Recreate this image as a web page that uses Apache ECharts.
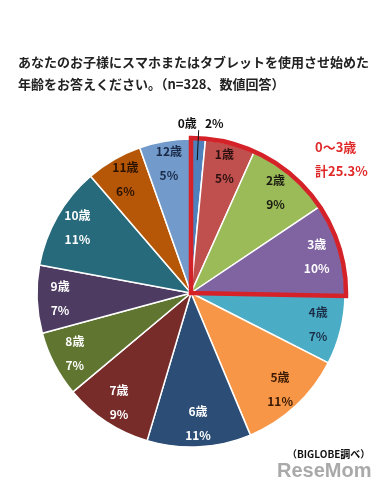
<!DOCTYPE html>
<html><head><meta charset="utf-8">
<script src="https://cdn.jsdelivr.net/npm/echarts@6/dist/echarts.min.js"></script>
<style>html,body{margin:0;padding:0;background:#fff;}#c{width:382px;height:480px;}</style>
</head><body><div id="c"></div>
<script>
const categories = ['0歳','1歳','2歳','3歳','4歳','5歳','6歳','7歳','8歳','9歳','10歳','11歳','12歳'];
const values = [1.5, 5.2, 8.9, 9.7, 7.2, 11.2, 10.9, 9.3, 6.9, 7.1, 10.8, 5.9, 5.4];
const pctLabels = ['2%','5%','9%','10%','7%','11%','11%','9%','7%','7%','11%','6%','5%'];
const groupValues = [25.3, 74.7];
const groupLabel = ['0～3歳', '計25.3%'];

const colors = ['#4F81BD','#C0504D','#9BBB59','#8064A2','#4BACC6','#F79646','#2C4D75','#772C2A','#5F7530','#4D3B62','#276A7C','#B65708','#729ACA'];
const labelColors = ['#111','#2a1010','#1a1a10','#ffffff','#1c2f48','#3a1a05','#ffffff','#ffffff','#ffffff','#ffffff','#ffffff','#2a1200','#1a2a48'];
const FONT = '"Noto Sans CJK JP", sans-serif';
const center = [191, 293];

// leader line for the first slice, derived from its value (mid-angle of slice 0)
const total = values.reduce((a, b) => a + b, 0);
const midAng = (90 - values[0] / total * 360 / 2) * Math.PI / 180;
const lp = r => [center[0] + r * Math.cos(midAng), center[1] - r * Math.sin(midAng)];
const p1 = lp(133), p2 = lp(163);

const chart = echarts.init(document.getElementById('c'));
chart.setOption({
  animation: false,
  title: [{
    text: 'あなたのお子様にスマホまたはタブレットを使用させ始めた\n年齢をお答えください。（n=328、数値回答）',
    left: 13, top: 46,
    textStyle: { fontFamily: FONT, fontSize: 13, fontWeight: 'bold', color: '#222', lineHeight: 22 }
  }, {
    text: groupLabel.join('\n'),
    left: 310, top: 130,
    textStyle: { fontFamily: FONT, fontSize: 13, fontWeight: 'bold', color: '#E02A2A', lineHeight: 24 }
  }, {
    text: '（BIGLOBE調べ）',
    left: 282, top: 444,
    textStyle: { fontFamily: FONT, fontSize: 10, fontWeight: 'bold', color: '#111' }
  }, {
    text: 'ReseMom',
    left: 272, top: 456,
    textStyle: { fontFamily: '"Liberation Sans", sans-serif', fontSize: 20, fontWeight: 'bold', color: 'rgba(140,140,140,0.75)' }
  }],
  graphic: [{
    type: 'line', z: 100, silent: true,
    shape: { x1: p1[0], y1: p1[1], x2: p2[0], y2: p2[1] },
    style: { stroke: '#111', lineWidth: 1 }
  }],
  series: [
    {
      type: 'pie', center: center, radius: [0, 154], startAngle: 90, clockwise: true,
      silent: true, label: { show: false }, labelLine: { show: false },
      itemStyle: { borderColor: '#fff', borderWidth: 1.5 },
      data: categories.map((c, i) => ({ name: c, value: values[i], itemStyle: { color: colors[i] } }))
    },
    {
      type: 'pie', center: center, radius: [102, 154], startAngle: 90, clockwise: true, silent: true,
      itemStyle: { color: 'rgba(0,0,0,0)', borderWidth: 0 },
      labelLine: { show: false },
      data: categories.map((c, i) => ({
        name: c, value: values[i],
        label: {
          show: i !== 0, position: 'inside',
          formatter: c + '\n' + pctLabels[i],
          fontFamily: FONT, fontSize: 12, fontWeight: 'bold', lineHeight: 24, color: labelColors[i]
        }
      }))
    },
    {
      type: 'pie', center: center, radius: [0, 133], startAngle: 90, clockwise: true, silent: true,
      avoidLabelOverlap: false,
      itemStyle: { color: 'rgba(0,0,0,0)', borderWidth: 0 },
      labelLine: { show: false, length: 30, length2: 2 },
      labelLayout: function (p) {
        if (p.dataIndex !== 0 || !p.labelLinePoints) return {};
        const end = p.labelLinePoints[1];
        return { x: end[0] + 2, y: end[1] - 1, align: 'center', verticalAlign: 'bottom' };
      },
      data: categories.map((c, i) => ({
        name: c, value: values[i],
        label: {
          show: i === 0, position: 'outside',
          formatter: c + '   ' + pctLabels[i],
          fontFamily: FONT, fontSize: 12, fontWeight: 'bold', color: '#111'
        }
      }))
    },
    {
      type: 'pie', center: center, radius: [0, 155], startAngle: 90, clockwise: true, silent: true,
      label: { show: false }, labelLine: { show: false },
      data: groupValues.map((v, i) => ({
        value: v, name: 'g' + i,
        itemStyle: i === 0
          ? { color: 'rgba(0,0,0,0)', borderColor: '#D42228', borderWidth: 4.5, borderJoin: 'miter' }
          : { color: 'rgba(0,0,0,0)', borderWidth: 0 }
      }))
    }
  ]
});
</script></body></html>
